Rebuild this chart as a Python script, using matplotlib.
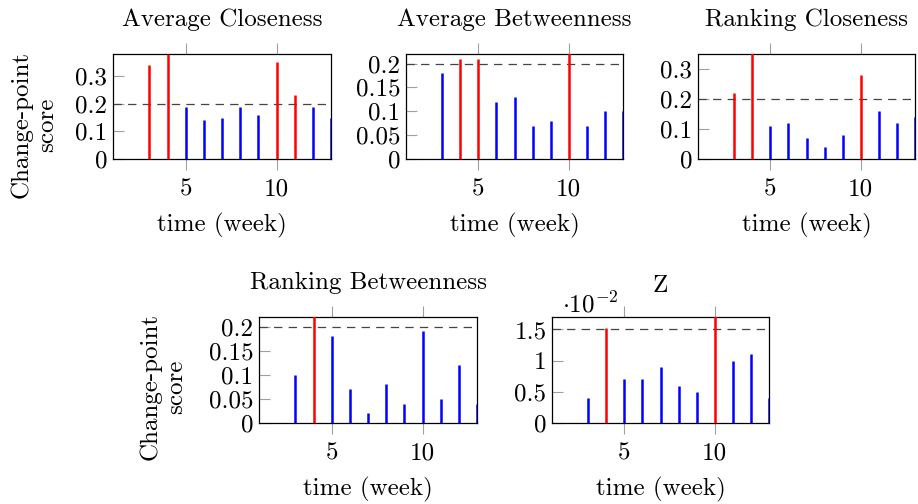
import matplotlib
matplotlib.use("Agg")
import matplotlib.pyplot as plt

plt.rcParams['font.family'] = ['cmr10', 'DejaVu Serif']
plt.rcParams['mathtext.fontset'] = 'cm'
plt.rcParams['axes.unicode_minus'] = False
plt.rcParams['axes.formatter.use_mathtext'] = True
plt.rcParams['lines.scale_dashes'] = False

weeks = list(range(1, 14))

titles = ["Average Closeness", "Average Betweenness", "Ranking Closeness",
          "Ranking Betweenness", "Z"]

avg_closeness = [0, 0, 0.34, 0.38, 0.19, 0.14, 0.15, 0.19, 0.16, 0.35, 0.23, 0.19, 0.15]
avg_betweenness = [0, 0, 0.18, 0.21, 0.21, 0.12, 0.13, 0.07, 0.08, 0.23, 0.07, 0.10, 0.10]
rank_closeness = [0, 0, 0.22, 0.36, 0.11, 0.12, 0.07, 0.04, 0.08, 0.28, 0.16, 0.12, 0.14]
rank_betweenness = [0, 0, 0.10, 0.23, 0.18, 0.07, 0.02, 0.08, 0.04, 0.19, 0.05, 0.12, 0.04]
z_score_e2 = [0, 0, 0.4, 1.52, 0.7, 0.7, 0.9, 0.6, 0.5, 1.75, 1.0, 1.1, 0.4]  # in units of 1e-2

thresholds = [0.2, 0.2, 0.2, 0.2, 1.5]
ymaxs = [0.38, 0.22, 0.35, 0.22, 1.7]
yticks = [[0, 0.1, 0.2, 0.3],
          [0, 0.05, 0.1, 0.15, 0.2],
          [0, 0.1, 0.2, 0.3],
          [0, 0.05, 0.1, 0.15, 0.2],
          [0, 0.5, 1, 1.5]]
ytick_labels = [["0", "0.1", "0.2", "0.3"],
                ["0", "0.05", "0.1", "0.15", "0.2"],
                ["0", "0.1", "0.2", "0.3"],
                ["0", "0.05", "0.1", "0.15", "0.2"],
                ["0", "0.5", "1", "1.5"]]
xticks = [5, 10]
series = [avg_closeness, avg_betweenness, rank_closeness, rank_betweenness, z_score_e2]

W, H = 918, 504
fig = plt.figure(figsize=(W / 100, H / 100), dpi=100)

# axes boxes in pixels: left, right, top, bottom
boxes = [(113, 331, 54, 159), (406, 623, 54, 159), (698, 915, 54, 159),
         (259, 477, 317, 423), (552, 769, 317, 423)]

FS = 18
for i, (l, r, t, b) in enumerate(boxes):
    ax = fig.add_axes([l / W, 1 - b / H, (r - l) / W, (b - t) / H])
    vals = series[i]
    thr = thresholds[i]
    cols = ['#ff0000' if v >= thr else '#0000ff' for v in vals]
    ax.vlines(weeks, 0, vals, colors=cols, linewidth=1.8, zorder=3)
    ax.axhline(thr, color='#444444', linewidth=0.9, dashes=(6, 4.5), zorder=2)
    ax.set_xlim(1, 13)
    ax.set_ylim(0, ymaxs[i])
    ax.set_xticks(xticks)
    ax.set_xticklabels([str(x) for x in xticks])
    ax.set_yticks(yticks[i])
    ax.set_yticklabels(ytick_labels[i])
    ax.tick_params(axis='x', direction='out', length=8, width=0.8, color='#a0a0a0',
                   top=True, bottom=True, labeltop=False, labelsize=FS, pad=6)
    ax.tick_params(axis='y', direction='in', length=8, width=0.8, color='#a0a0a0',
                   left=True, right=False, labelsize=FS, pad=4)
    for s in ax.spines.values():
        s.set_linewidth(0.9)
        s.set_color('black')
    ax.set_title(titles[i], fontsize=FS, pad=20 if i < 4 else 18)
    ax.set_xlabel("time (week)", fontsize=FS, labelpad=9)
    if i == 4:
        ax.text(0.045, 1.0, r'$\cdot 10^{-2}$', transform=ax.transAxes,
                fontsize=FS, ha='left', va='bottom')

fig.text(34 / W, 1 - 125 / H, "Change-point\nscore", rotation=90, fontsize=FS,
         ha='center', va='center', multialignment='center', linespacing=1.2)
fig.text(163 / W, 1 - 387 / H, "Change-point\nscore", rotation=90, fontsize=FS,
         ha='center', va='center', multialignment='center', linespacing=1.2)

fig.savefig("out.png", dpi=100)
